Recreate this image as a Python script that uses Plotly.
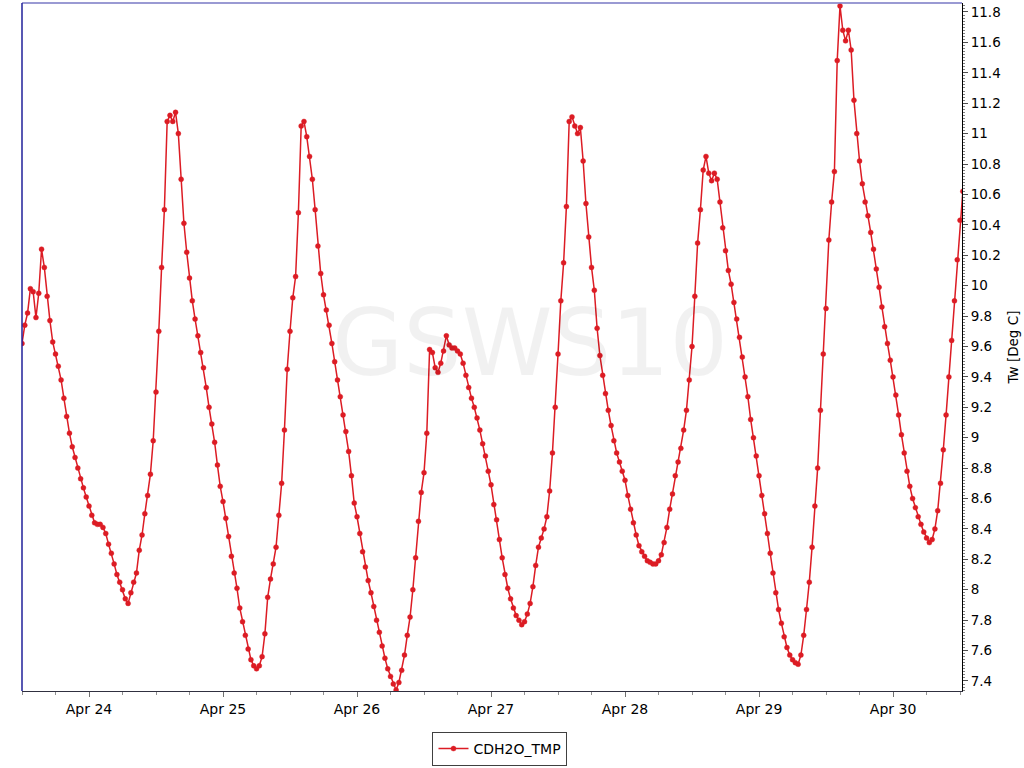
import pandas as pd
import plotly.graph_objects as go

series_name = "CDH2O_TMP"
y_title = "Tw [Deg C]"
watermark = "GSWS10"
start_time = "2024-04-23 12:00"
step = "30min"

values = [
    9.62, 9.74, 9.82, 9.98, 9.96, 9.79, 9.95, 10.24, 10.12, 9.93,
    9.77, 9.63, 9.55, 9.47, 9.38, 9.26, 9.14, 9.03, 8.94, 8.87,
    8.80, 8.73, 8.67, 8.61, 8.55, 8.49, 8.44, 8.43, 8.43, 8.41,
    8.37, 8.30, 8.24, 8.17, 8.10, 8.05, 8.00, 7.94, 7.91, 7.98,
    8.05, 8.11, 8.26, 8.36, 8.50, 8.62, 8.76, 8.98, 9.30, 9.70,
    10.12, 10.50, 11.08, 11.12, 11.08, 11.14, 11.00, 10.70, 10.41, 10.22,
    10.05, 9.90, 9.78, 9.67, 9.56, 9.46, 9.33, 9.20, 9.09, 8.97,
    8.82, 8.68, 8.58, 8.47, 8.35, 8.22, 8.11, 8.01, 7.88, 7.79,
    7.70, 7.61, 7.54, 7.50, 7.48, 7.50, 7.56, 7.71, 7.95, 8.07,
    8.17, 8.28, 8.49, 8.70, 9.05, 9.45, 9.70, 9.92, 10.06, 10.48,
    11.05, 11.08, 10.98, 10.85, 10.70, 10.50, 10.26, 10.08, 9.94, 9.84,
    9.74, 9.62, 9.50, 9.38, 9.27, 9.15, 9.04, 8.91, 8.75, 8.57,
    8.48, 8.37, 8.25, 8.15, 8.06, 7.98, 7.89, 7.80, 7.72, 7.63,
    7.55, 7.48, 7.43, 7.38, 7.34, 7.39, 7.47, 7.57, 7.70, 7.82,
    8.00, 8.21, 8.45, 8.64, 8.77, 9.03, 9.58, 9.56, 9.46, 9.43,
    9.49, 9.57, 9.67, 9.61, 9.59, 9.59, 9.57, 9.55, 9.49, 9.41,
    9.33, 9.26, 9.20, 9.13, 9.05, 8.96, 8.88, 8.78, 8.69, 8.56,
    8.46, 8.33, 8.21, 8.10, 8.01, 7.94, 7.88, 7.83, 7.80, 7.77,
    7.79, 7.84, 7.91, 8.02, 8.16, 8.28, 8.34, 8.40, 8.48, 8.65,
    8.90, 9.20, 9.55, 9.90, 10.15, 10.52, 11.08, 11.11, 11.05, 11.00,
    11.04, 10.82, 10.54, 10.32, 10.12, 9.97, 9.72, 9.54, 9.41, 9.29,
    9.18, 9.08, 8.98, 8.90, 8.84, 8.78, 8.72, 8.62, 8.53, 8.44,
    8.36, 8.29, 8.25, 8.22, 8.19, 8.18, 8.17, 8.17, 8.19, 8.23,
    8.31, 8.41, 8.53, 8.63, 8.75, 8.84, 8.93, 9.05, 9.18, 9.38,
    9.60, 9.93, 10.28, 10.50, 10.76, 10.85, 10.74, 10.69, 10.74, 10.70,
    10.55, 10.38, 10.23, 10.10, 10.01, 9.89, 9.78, 9.66, 9.53, 9.40,
    9.27, 9.12, 9.00, 8.88, 8.75, 8.62, 8.50, 8.37, 8.24, 8.11,
    7.98, 7.87, 7.78, 7.69, 7.62, 7.57, 7.54, 7.52, 7.51, 7.57,
    7.70, 7.87, 8.05, 8.28, 8.55, 8.80, 9.18, 9.55, 9.85, 10.30,
    10.55, 10.75, 11.48, 11.84, 11.68, 11.61, 11.68, 11.55, 11.22, 11.00,
    10.82, 10.67, 10.55, 10.46, 10.35, 10.24, 10.11, 9.99, 9.86, 9.73,
    9.62, 9.51, 9.40, 9.28, 9.15, 9.02, 8.90, 8.78, 8.68, 8.60,
    8.54, 8.48, 8.43, 8.38, 8.34, 8.31, 8.33, 8.40, 8.52, 8.70,
    8.92, 9.15, 9.40, 9.64, 9.90, 10.17, 10.43, 10.62,
]

times = pd.date_range(start=start_time, periods=len(values), freq=step)

x_range = ["2024-04-23 12:00", "2024-04-30 12:21"]
y_range = [7.334, 11.859]

RED = "#dc1c24"
FONT = "DejaVu Sans"

fig = go.Figure()
fig.add_trace(go.Scatter(
    x=times, y=values, mode="lines+markers", name=series_name,
    line=dict(color=RED, width=1.5),
    marker=dict(color=RED, size=5, line=dict(color="rgba(220,28,36,0.4)", width=1)),
    showlegend=True,
))

fig.update_layout(
    width=1024, height=768,
    margin=dict(l=22, r=62, t=3, b=76),
    paper_bgcolor="white", plot_bgcolor="white",
    font=dict(family=FONT, size=13, color="black"),
    showlegend=True,
    legend=dict(
        orientation="h", x=0.5085, xanchor="center", y=-0.058, yanchor="top",
        bordercolor="#404040", borderwidth=1, bgcolor="white",
        font=dict(family=FONT, size=14, color="black"),
    ),
    xaxis=dict(
        type="date", range=x_range, tickformat="%b %d", dtick=86400000,
        tick0="2024-04-24", ticks="outside", ticklen=5, tickcolor="#707070",
        showgrid=False, zeroline=False, showline=True, linecolor="#303040", linewidth=1,
        minor=dict(dtick=21600000, ticks="outside", ticklen=3, tickcolor="#909090", showgrid=False),
        tickfont=dict(family=FONT, size=14, color="black"),
    ),
    yaxis=dict(
        side="right", range=y_range, dtick=0.2, tick0=7.4, ticks="outside",
        ticklen=5, tickcolor="#505050", showgrid=False, zeroline=False,
        showline=True, linecolor="black", linewidth=1,
        minor=dict(dtick=0.02, ticks="outside", ticklen=2, tickcolor="#808080", showgrid=False),
        tickfont=dict(family=FONT, size=13.5, color="black"),
        title=dict(text=y_title, font=dict(family=FONT, size=13.5, color="black"), standoff=8),
    ),
)

# top and left frame lines
fig.add_shape(type="line", xref="paper", yref="paper", x0=0, x1=1, y0=1, y1=1,
              line=dict(color="#7878c4", width=1.5))
fig.add_shape(type="line", xref="paper", yref="paper", x0=0, x1=0, y0=0, y1=1,
              line=dict(color="#20209a", width=1.5))

fig.add_annotation(
    text=watermark, xref="paper", yref="paper", x=0.54, y=0.505, showarrow=False,
    font=dict(family=FONT, size=92, color="rgba(0,0,0,0.055)"),
    xanchor="center", yanchor="middle",
)

fig.write_html(
    "out.html",
    config={"displayModeBar": False},
    post_script="document.body.style.margin='0';document.body.style.padding='0';",
)
